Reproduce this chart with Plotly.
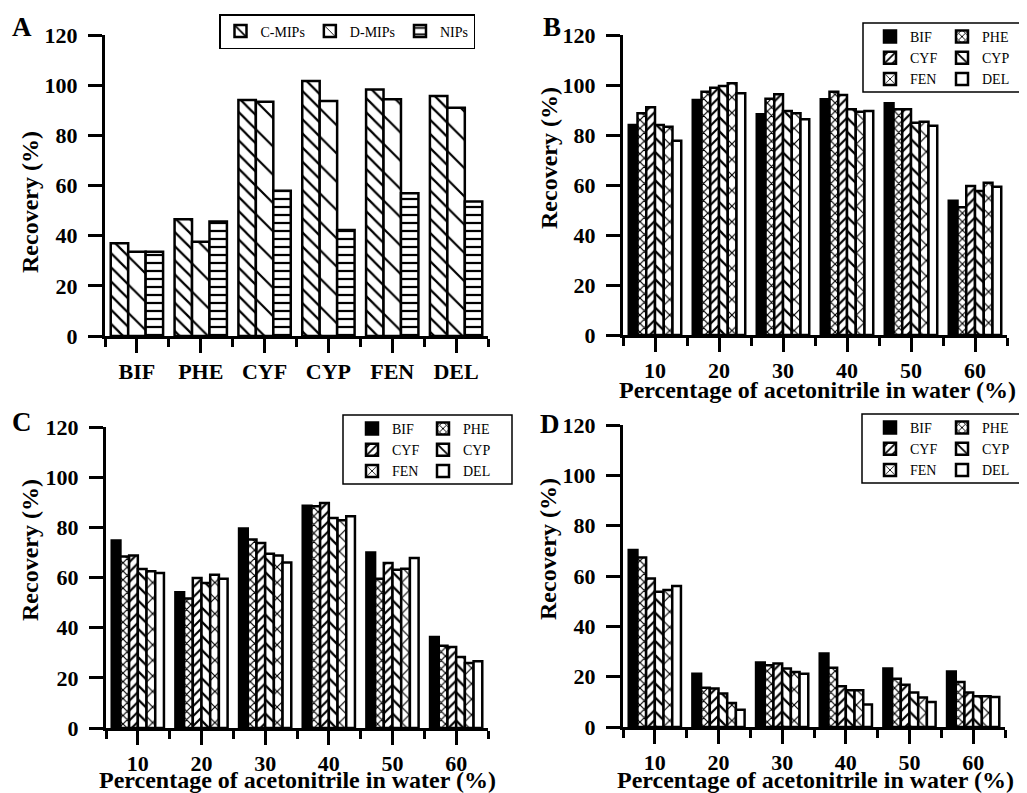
import plotly.graph_objects as go

# ---------------- data ----------------
pesticides = ["BIF", "PHE", "CYF", "CYP", "FEN", "DEL"]
a_series = ["C-MIPs", "D-MIPs", "NIPs"]
a_cmips = [37.0, 46.5, 94.1, 101.7, 98.3, 95.7]
a_dmips = [33.6, 37.6, 93.4, 93.7, 94.4, 91.0]
a_nips = [33.6, 45.6, 57.9, 42.3, 56.9, 53.6]

acetonitrile = [10, 20, 30, 40, 50, 60]

b_bif = [84.0, 94.0, 88.3, 94.3, 92.7, 53.7]
b_phe = [88.7, 97.3, 94.5, 97.3, 90.3, 51.1]
b_cyf = [91.1, 98.9, 96.3, 96.0, 90.3, 59.6]
b_cyp = [84.0, 99.6, 89.6, 90.3, 84.9, 57.6]
b_fen = [83.3, 100.7, 88.7, 89.3, 85.3, 60.9]
b_del = [77.7, 96.7, 86.3, 89.6, 83.7, 59.3]

c_bif = [74.8, 54.1, 79.5, 88.6, 70.0, 36.3]
c_phe = [68.4, 51.6, 75.1, 88.4, 59.5, 32.8]
c_cyf = [68.8, 59.8, 73.8, 89.7, 65.8, 32.3]
c_cyp = [63.4, 57.8, 69.5, 83.7, 63.1, 28.3]
c_fen = [62.5, 61.1, 68.8, 82.8, 63.5, 25.9]
c_del = [61.8, 59.5, 66.0, 84.4, 67.8, 26.6]

d_bif = [70.3, 21.2, 25.6, 29.2, 23.2, 22.1]
d_phe = [67.4, 15.6, 24.5, 23.5, 19.2, 17.9]
d_cyf = [59.0, 15.3, 25.2, 16.2, 16.8, 13.7]
d_cyp = [53.7, 13.3, 23.2, 14.6, 13.7, 12.2]
d_fen = [54.4, 9.5, 21.9, 14.6, 11.7, 12.2]
d_del = [56.0, 6.9, 21.2, 8.9, 9.9, 11.9]

y_ticks = [0, 20, 40, 60, 80, 100, 120]
y_title = "Recovery (%)"
x_title = "Percentage of acetonitrile in water (%)"

# ---------------- styling ----------------
# the page body has an 8px margin; the figure fills the rest of the window
OFF = 8
W, H = 1027 - OFF, 793 - OFF
FONT = "Liberation Serif, Times New Roman, serif"


def fx(p):
    return (p - OFF) / W


def fy(p):
    return 1 - (p - OFF) / H


a_patterns = {
    "C-MIPs": dict(shape="\\", size=10, solidity=0.22),
    "D-MIPs": dict(shape="\\", size=20, solidity=0.11),
    "NIPs": dict(shape="-", size=8, solidity=0.28),
}
p_patterns = {
    "BIF": None,
    "PHE": dict(shape="x", size=6, solidity=0.35),
    "CYF": dict(shape="/", size=7, solidity=0.3),
    "CYP": dict(shape="\\", size=10, solidity=0.22),
    "FEN": dict(shape="x", size=11, solidity=0.2),
    "DEL": None,
}

fig = go.Figure()


def marker_for(pat, solid_black=False):
    m = dict(color="black" if solid_black else "white",
             line=dict(color="black", width=2.5))
    if pat is not None:
        m["pattern"] = dict(fgcolor="black", bgcolor="white", fgopacity=1,
                            fillmode="overlay", **pat)
    return m


# Panel A
a_x = list(range(len(pesticides)))
for name, vals in zip(a_series, [a_cmips, a_dmips, a_nips]):
    fig.add_trace(go.Bar(x=a_x, y=vals, name=name, xaxis="x", yaxis="y",
                         marker=marker_for(a_patterns[name]), legend="legend"))

# Panels B, C, D
panels = [
    ("x2", "y2", "legend2", "legend3", [b_bif, b_phe, b_cyf, b_cyp, b_fen, b_del]),
    ("x3", "y3", "legend4", "legend5", [c_bif, c_phe, c_cyf, c_cyp, c_fen, c_del]),
    ("x4", "y4", "legend6", "legend7", [d_bif, d_phe, d_cyf, d_cyp, d_fen, d_del]),
]
for xa, ya, lg1, lg2, series in panels:
    for i, (name, vals) in enumerate(zip(pesticides, series)):
        fig.add_trace(go.Bar(x=acetonitrile, y=vals, name=name, xaxis=xa, yaxis=ya,
                             marker=marker_for(p_patterns[name], solid_black=(name == "BIF")),
                             legend=lg1 if i % 2 == 0 else lg2))

axis_common = dict(showline=True, linecolor="black", linewidth=3, ticks="outside",
                   ticklen=14, tickwidth=3, tickcolor="black", showgrid=False,
                   zeroline=False, automargin=False,
                   tickfont=dict(family=FONT, size=22, color="black", weight="bold"))

title_font = dict(family=FONT, size=24, color="black", weight="bold")

domains = {
    "1": ([105, 488], [35, 336]),
    "2": ([623, 1007], [35, 335]),
    "3": ([106, 488], [427, 728]),
    "4": ([623, 1005], [425, 727]),
}

layout = dict(width=W, height=H, margin=dict(l=0, r=0, t=0, b=0),
              paper_bgcolor="white", plot_bgcolor="white",
              barmode="group", bargap=0.18, bargroupgap=0,
              showlegend=True)

for k, (xd, yd) in domains.items():
    xname = "xaxis" if k == "1" else "xaxis" + k
    yname = "yaxis" if k == "1" else "yaxis" + k
    xid = "x" if k == "1" else "x" + k
    yid = "y" if k == "1" else "y" + k
    xax = dict(axis_common, domain=[fx(xd[0]), fx(xd[1])], anchor=yid)
    if k == "1":
        xax.update(range=[-0.5, len(pesticides) - 0.5], tickvals=a_x, ticktext=pesticides,
                   minor=dict(ticks="outside", ticklen=8, tickwidth=3, tickcolor="black",
                              tick0=-0.5, dtick=1, showgrid=False))
    else:
        xax.update(range=[5, 65], tickvals=acetonitrile,
                   minor=dict(ticks="outside", ticklen=8, tickwidth=3, tickcolor="black",
                              tick0=5, dtick=10, showgrid=False))
    yax = dict(axis_common, domain=[fy(yd[1]), fy(yd[0])], anchor=xid,
               range=[0, 120], tickvals=y_ticks, ticklabelstandoff=6)
    layout[xname] = xax
    layout[yname] = yax

legend_font = dict(family=FONT, size=14, color="black")
layout["legend"] = dict(orientation="h", x=fx(219), y=fy(14), xanchor="left", yanchor="top",
                        bordercolor="black", borderwidth=1.5, bgcolor="white",
                        font=legend_font)
leg_pos = {
    "legend2": (870, 21), "legend3": (942, 21),
    "legend4": (352, 413), "legend5": (423, 413),
    "legend6": (870, 412), "legend7": (942, 412),
}
for lg, (lx, ly) in leg_pos.items():
    layout[lg] = dict(x=fx(lx), y=fy(ly), xanchor="left", yanchor="top",
                      bgcolor="rgba(0,0,0,0)", font=legend_font, orientation="v")

shapes = []
for (x0, y0, x1, y1) in [(863, 23, 1025, 92), (343, 415, 512, 484), (862, 414, 1025, 483)]:
    shapes.append(dict(type="rect", xref="paper", yref="paper",
                       x0=fx(x0), x1=fx(x1), y0=fy(y1), y1=fy(y0),
                       line=dict(color="black", width=1.5), fillcolor="rgba(0,0,0,0)",
                       layer="below"))
layout["shapes"] = shapes

letter_font = dict(family=FONT, size=27, color="black", weight="bold")
annotations = []
for letter, (lx, ly) in zip("ABCD", [(22, 27), (552, 27), (22, 422), (550, 424)]):
    annotations.append(dict(text=letter, x=fx(lx), y=fy(ly), xref="paper", yref="paper",
                            showarrow=False, font=letter_font, xanchor="center",
                            yanchor="middle"))
# y axis titles
for (tx, ty) in [(30, 202), (549, 158), (30, 550), (548, 549)]:
    annotations.append(dict(text=y_title, x=fx(tx), y=fy(ty), xref="paper", yref="paper",
                            showarrow=False, font=title_font, textangle=-90,
                            xanchor="center", yanchor="middle"))
# x axis titles (panels B, C, D)
for (tx, ty) in [(817, 390), (297, 780), (815, 780)]:
    annotations.append(dict(text=x_title, x=fx(tx), y=fy(ty), xref="paper", yref="paper",
                            showarrow=False, font=title_font,
                            xanchor="center", yanchor="middle"))
layout["annotations"] = annotations

fig.update_layout(**layout)
fig.write_html("out.html")
